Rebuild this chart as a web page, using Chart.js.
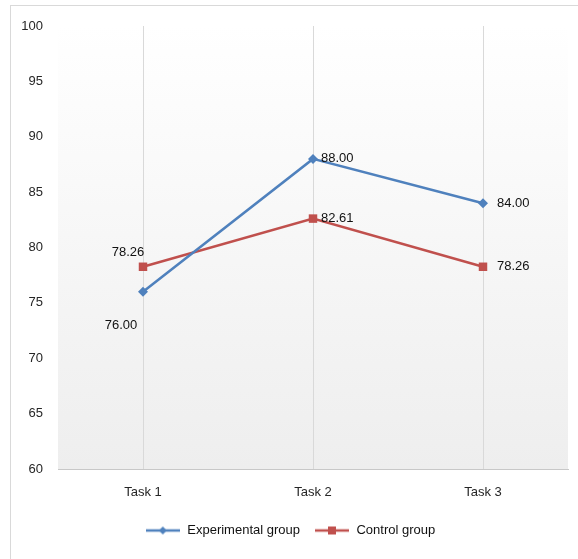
<!DOCTYPE html>
<html>
<head>
<meta charset="utf-8">
<script src="https://cdn.jsdelivr.net/npm/chart.js@4"></script>
<style>
  html, body { margin: 0; padding: 0; background: #fff; }
  #wrap { width: 578px; height: 559px; }
</style>
</head>
<body>
<div id="wrap"><canvas id="chart" width="578" height="559"></canvas></div>
<script>
// --- data ---
const categories = ['Task 1', 'Task 2', 'Task 3'];
const experimental = [76.00, 88.00, 84.00];
const control = [78.26, 82.61, 78.26];
const yTicks = [60, 65, 70, 75, 80, 85, 90, 95, 100];

// --- styles ---
const BLUE = '#4F81BD';
const RED = '#C0504D';
const FONT = '"Liberation Sans", Arial, sans-serif';
// where each value label sits relative to its point
const expLabelPos = ['below-left', 'right', 'right-far'];
const ctlLabelPos = ['above-left', 'right', 'right-far'];

// legend symbol: short line with marker
function legendSymbol(color, shape) {
  const c = document.createElement('canvas');
  c.width = 34; c.height = 10;
  const g = c.getContext('2d');
  g.strokeStyle = color;
  g.lineWidth = 2.5;
  g.beginPath(); g.moveTo(0, 5); g.lineTo(34, 5); g.stroke();
  g.fillStyle = color;
  if (shape === 'diamond') {
    g.beginPath(); g.moveTo(17, 1); g.lineTo(21, 5); g.lineTo(17, 9); g.lineTo(13, 5); g.closePath(); g.fill();
  } else {
    g.fillRect(13, 1, 8, 8);
  }
  return c;
}

// --- background, border ---
const backdrop = {
  id: 'backdrop',
  beforeDraw(chart) {
    const { ctx, chartArea: a } = chart;
    ctx.save();
    const grad = ctx.createLinearGradient(0, a.top, 0, a.bottom);
    grad.addColorStop(0, '#ffffff');
    grad.addColorStop(1, '#eeeeee');
    ctx.fillStyle = grad;
    ctx.fillRect(a.left, a.top, a.right - a.left, a.bottom - a.top);
    ctx.strokeStyle = '#d9d9d9';
    ctx.lineWidth = 1;
    ctx.strokeRect(10.5, 5.5, 600, 600);
    ctx.restore();
  }
};

// --- value labels ---
const valueLabels = {
  id: 'valueLabels',
  afterDatasetsDraw(chart) {
    const ctx = chart.ctx;
    ctx.save();
    ctx.font = '13px ' + FONT;
    ctx.fillStyle = '#111111';
    chart.data.datasets.forEach((ds, di) => {
      const meta = chart.getDatasetMeta(di);
      const pos = di === 0 ? expLabelPos : ctlLabelPos;
      meta.data.forEach((pt, i) => {
        const txt = ds.data[i].toFixed(2);
        const p = pos[i];
        let x = pt.x, y = pt.y;
        if (p === 'right') { ctx.textAlign = 'left'; ctx.textBaseline = 'middle'; x += 8; }
        else if (p === 'right-far') { ctx.textAlign = 'left'; ctx.textBaseline = 'middle'; x += 14; }
        else if (p === 'below-left') { ctx.textAlign = 'center'; ctx.textBaseline = 'top'; x -= 22; y += 27; }
        else if (p === 'above-left') { ctx.textAlign = 'center'; ctx.textBaseline = 'bottom'; x -= 15; y -= 8; }
        ctx.fillText(txt, x, y);
      });
    });
    ctx.restore();
  }
};

new Chart(document.getElementById('chart'), {
  type: 'line',
  data: {
    labels: categories,
    datasets: [
      {
        label: 'Experimental group',
        data: experimental,
        borderColor: BLUE,
        backgroundColor: BLUE,
        borderWidth: 2.5,
        pointStyle: 'rectRot',
        pointRadius: 5,
        pointBorderWidth: 0,
        tension: 0
      },
      {
        label: 'Control group',
        data: control,
        borderColor: RED,
        backgroundColor: RED,
        borderWidth: 2.5,
        pointStyle: 'rect',
        pointRadius: 6,
        pointBorderWidth: 0,
        tension: 0
      }
    ]
  },
  options: {
    responsive: false,
    animation: false,
    layout: { padding: { left: 12, right: 10, top: 26, bottom: 12 } },
    scales: {
      x: {
        offset: true,
        grid: { display: true, offset: false, color: '#d9d9d9', drawTicks: false },
        border: { display: true, color: '#c8c8c8', width: 1 },
        ticks: { padding: 16, color: '#262626', font: { family: FONT, size: 13 } },
        afterFit(s) { s.height = 41; }
      },
      y: {
        min: 60,
        max: 100,
        grid: { display: false, drawTicks: false },
        border: { display: false },
        afterBuildTicks(s) { s.ticks = yTicks.map(v => ({ value: v })); },
        ticks: { padding: 15, color: '#262626', font: { family: FONT, size: 13 } },
        afterFit(s) { s.width = 46; }
      }
    },
    plugins: {
      legend: {
        position: 'bottom',
        labels: {
          usePointStyle: true,
          pointStyleWidth: 36,
          padding: 14,
          color: '#111111',
          font: { family: FONT, size: 13 },
          generateLabels(chart) {
            return chart.data.datasets.map((ds, i) => ({
              text: ds.label,
              datasetIndex: i,
              pointStyle: legendSymbol(ds.borderColor, i === 0 ? 'diamond' : 'square'),
              fontColor: '#111111',
              lineWidth: 0,
              hidden: false
            }));
          }
        }
      },
      tooltip: { enabled: false }
    }
  },
  plugins: [backdrop, valueLabels]
});
</script>
</body>
</html>
